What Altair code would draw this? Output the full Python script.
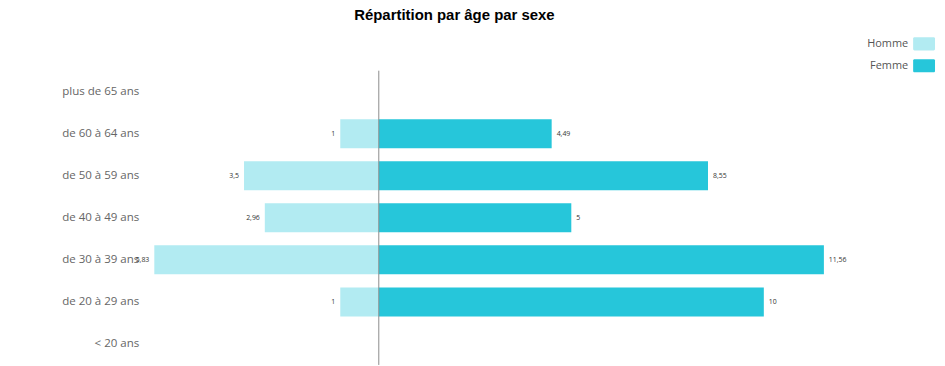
import altair as alt
import pandas as pd

categories = ["plus de 65 ans", "de 60 à 64 ans", "de 50 à 59 ans", "de 40 à 49 ans",
              "de 30 à 39 ans", "de 20 à 29 ans", "< 20 ans"]
homme = [None, 1, 3.5, 2.96, 5.83, 1, None]
femme = [None, 4.49, 8.55, 5, 11.56, 10, None]
sexes = ["Homme", "Femme"]
colors = ["#b2ebf2", "#26c6da"]

rows = []
for c, h, f in zip(categories, homme, femme):
    rows.append({"age": c, "sexe": "Homme", "valeur": h})
    rows.append({"age": c, "sexe": "Femme", "valeur": f})
df = pd.DataFrame(rows)

rrect = ("M-0.88,-0.6 L0.88,-0.6 A0.12,0.12 0 0 1 1,-0.48 L1,0.48 "
         "A0.12,0.12 0 0 1 0.88,0.6 L-0.88,0.6 A0.12,0.12 0 0 1 -1,0.48 "
         "L-1,-0.48 A0.12,0.12 0 0 1 -0.88,-0.6 Z")

base = alt.Chart(df).transform_filter("isValid(datum.valeur)").transform_calculate(
    xv="datum.sexe == 'Homme' ? -datum.valeur : datum.valeur",
    label="replace(toString(datum.valeur), '.', ',')",
)

yenc = alt.Y("age:N", scale=alt.Scale(domain=categories, paddingInner=0.31, paddingOuter=0.155),
             axis=alt.Axis(title=None, ticks=False, domain=False, labelPadding=9,
                           labelFontSize=11.6, labelColor="#666666", labelFont="Open Sans"))
xenc = alt.X("xv:Q", scale=alt.Scale(domain=[-6, 12.2], nice=False, zero=False), axis=None)

bars = base.mark_bar().encode(
    y=yenc, x=xenc,
    color=alt.Color("sexe:N", scale=alt.Scale(domain=sexes, range=colors),
                    legend=alt.Legend(title=None, orient="none", legendX=770, legendY=-38,
                                      symbolType=rrect, symbolSize=484, symbolOpacity=1,
                                      symbolStrokeWidth=0, labelAlign="right",
                                      labelOffset={"expr": "-27"},
                                      labelFontSize=11, labelColor="#555555",
                                      labelFont="Open Sans", rowPadding=4)),
)

txt_h = base.transform_filter("datum.sexe == 'Homme'").mark_text(
    align="right", dx=-5, fontSize=7, color="#333333", font="Open Sans"
).encode(y=alt.Y("age:N"), x=alt.X("xv:Q"), text="label:N")

txt_f = base.transform_filter("datum.sexe == 'Femme'").mark_text(
    align="left", dx=5, fontSize=7, color="#333333", font="Open Sans"
).encode(y=alt.Y("age:N"), x=alt.X("xv:Q"), text="label:N")

rule = alt.Chart(pd.DataFrame({"z": [0]})).mark_rule(color="#8c8c8c", strokeWidth=1).encode(
    x=alt.X("z:Q"))

chart = alt.layer(bars, txt_h, txt_f, rule).properties(
    width=705, height=296,
    title=alt.TitleParams("Répartition par âge par sexe", font="Liberation Sans", fontSize=15,
                          fontWeight="bold", color="#000000", anchor="middle", frame="group",
                          dx=-44, dy=-10, offset=0),
    autosize=alt.AutoSizeParams(type="none"),
    padding={"left": 140.6, "top": 62, "right": 89, "bottom": 0},
).configure_view(stroke=None)

chart.save("out.html", embed_options={"renderer": "svg", "actions": False})
